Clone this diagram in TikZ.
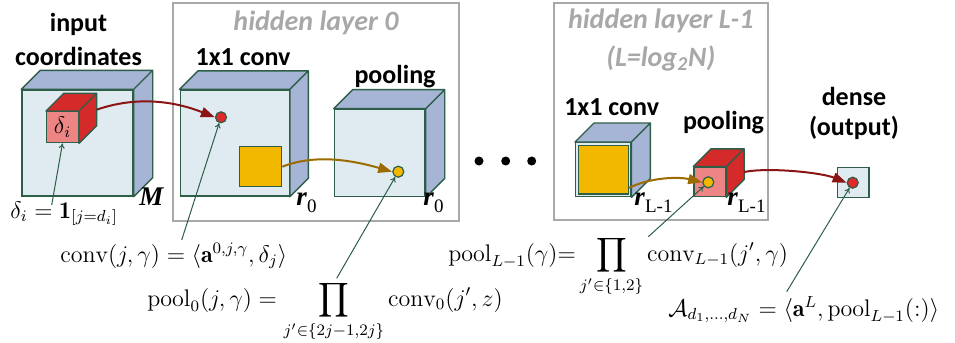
\documentclass[tikz,border=0pt]{standalone}
\usepackage{fontspec}
\setsansfont{Carlito}
\newfontfamily\lblfont{Liberation Serif}
\usepackage{amsmath,bm}
\usetikzlibrary{arrows.meta, positioning, calc}

\definecolor{facefront}{HTML}{DFEBF1}
\definecolor{faceside}{HTML}{A6B4D6}
\definecolor{edgegreen}{HTML}{2D5E48}
\definecolor{redside}{HTML}{D42A2A}
\definecolor{redfront}{HTML}{EE8585}
\definecolor{yellowsq}{HTML}{F2B800}
\definecolor{golden}{HTML}{9C6B00}
\definecolor{darkred}{HTML}{8B1515}
\definecolor{dotred}{HTML}{E02A2A}
\definecolor{boxgray}{HTML}{A8A8A8}

\newcommand{\cubesides}[3]{%
  \filldraw[draw=edgegreen, fill=#3, line width=0.7pt, line join=round]
    (#1.north west) -- ++(#2,-#2) -- ([shift={(#2,-#2)}]#1.north east) -- (#1.north east) -- cycle
    (#1.north east) -- ++(#2,-#2) -- ([shift={(#2,-#2)}]#1.south east) -- (#1.south east) -- cycle;}
\newcommand{\rank}[1]{\textbf{\textit{r}}\raisebox{-3.5pt}{\fontsize{9.5}{10}\selectfont #1}}

\begin{document}
\begin{tikzpicture}[x=0.5pt, y=-0.5pt,
  face/.style={draw=edgegreen, fill=facefront, line width=0.7pt, inner sep=0pt},
  redface/.style={face, fill=redfront},
  fillsq/.style={draw=edgegreen, fill=yellowsq, line width=0.7pt, inner sep=0pt},
  dot/.style={circle, draw=edgegreen, line width=0.6pt, inner sep=0pt, minimum size=5.5pt},
  ellip/.style={circle, fill=black, inner sep=0pt, minimum size=4.5pt},
  note/.style={-{To[length=2.5pt,width=3pt]}, draw=edgegreen, line width=0.5pt},
  flow/.style={-{Triangle[length=7pt,width=5pt]}, line width=1pt},
  layerbox/.style={draw=boxgray, line width=0.9pt},
  head/.style={font=\sffamily\bfseries\fontsize{13}{17}\selectfont, align=center, inner sep=0pt},
  layertitle/.style={font=\sffamily\bfseries\itshape\fontsize{14}{19}\selectfont, text=boxgray,
                     align=center, inner sep=0pt},
  eq/.style={font=\fontsize{12}{14}\selectfont, inner sep=0pt, anchor=base west},
  size/.style={font=\lblfont\fontsize{13.5}{15}\selectfont, inner sep=0pt, anchor=base west},
]
\useasboundingbox (0,0) rectangle (955,343);

\draw[layerbox] (173.3,2.7) rectangle (459,220.7);
\draw[layerbox] (554,2.7) rectangle (768.3,220);

% input coordinates
\node[face, minimum width=55.5pt, minimum height=53pt] (incube) at (77.5,143) {};
\cubesides{incube}{19}{faceside}
\node[redface, minimum width=15.8pt, minimum height=15.5pt] (delta) at (62.5,127.2)
  {\fontsize{12}{14}\selectfont$\delta_i$};
\cubesides{delta}{17.7}{redside}

% hidden layer 0
\node[face, minimum width=54.5pt, minimum height=53pt] (conv0) at (234.7,143) {};
\cubesides{conv0}{18.5}{faceside}
\node[dot, fill=dotred] (dotA) at (221,117.3) {};
\node[fillsq, minimum width=21.2pt, minimum height=20pt] (sqA) at (260.5,166.7) {};

\node[face, minimum width=45.3pt, minimum height=43.7pt] (pool0) at (379.7,153) {};
\cubesides{pool0}{19}{faceside}
\node[dot, fill=yellowsq] (dotB) at (398.3,171.7) {};

% hidden layer L-1
\node[face, minimum width=27.5pt, minimum height=27pt] (convL) at (603.2,169.7) {};
\cubesides{convL}{19}{faceside}
\node[fillsq, minimum width=25pt, minimum height=24.2pt] (sqL) at (603.3,169.9) {};

\node[redface, minimum width=15.8pt, minimum height=14.7pt] (poolL) at (709.8,182) {};
\cubesides{poolL}{17.8}{redside}
\node[dot, fill=yellowsq] (dotC) at (708.3,182.3) {};

% output
\node[face, minimum width=15.6pt, minimum height=15pt] (dense) at (853.3,182.3) {};
\node[dot, fill=dotred] (dotD) at (852.7,182.7) {};

\foreach \i/\x in {1/479,2/505.7,3/531.7}
  \node[ellip] (e\i) at (\x,161) {};

\node[head] (hin) at (78.5,39) {input\\coordinates};
\node[head] (hconv0) at (243,57) {1x1 conv};
\node[head] (hpool0) at (395,76.7) {pooling};
\node[layertitle] (t0) at (316,22.5) {hidden layer 0};
\node[layertitle] (tL) at (660.8,40) {hidden layer L-1\\(L=log\textsubscript{2}N)};
\node[head] (hconvL) at (611.7,107.5) {1x1 conv};
\node[head] (hpoolL) at (723.5,122.5) {pooling};
\node[head, font=\sffamily\bfseries\fontsize{13}{15}\selectfont] (hdense) at (854,113) {dense\\(output)};

\node[size] (labM) at (139,205) {\textbf{\textit{M}}};
\node[size] (labr0a) at (296,205) {\rank{0}};
\node[size] (labr0b) at (423,205) {\rank{0}};
\node[size] (labrLa) at (634,205) {\rank{L-1}};
\node[size] (labrLb) at (727,205) {\rank{L-1}};

\node[eq] (fdelta) at (10,218) {$\delta_i = \mathbf{1}_{[j=d_i]}$};
\node[eq] (fconv) at (60,262) {$\mathrm{conv}(j,\gamma) = \langle \mathbf{a}^{0,j,\gamma}, \delta_j \rangle$};
\node[eq] (fpool0) at (147,306)
  {$\displaystyle \mathrm{pool}_0(j,\gamma) = \prod_{j'\in\{2j-1,2j\}} \mathrm{conv}_0(j',z)$};
\node[eq] (fpoolL) at (448,261)
  {$\displaystyle \mathrm{pool}_{L-1}(\gamma){=}\prod_{j'\in\{1,2\}} \mathrm{conv}_{L-1}(j',\gamma)$};
\node[eq] (fout) at (668,316)
  {$\mathcal{A}_{d_1,\ldots,d_N} = \langle \mathbf{a}^L, \mathrm{pool}_{L-1}(:) \rangle$};

\coordinate (dl) at (51.7,205);
\coordinate (cl) at (181.7,240);
\coordinate (pl) at (336.7,278.3);
\coordinate (ql) at (648.3,236.7);
\coordinate (al) at (786.7,291.7);
\draw[note] (dl) -- (delta.south);
\draw[note] (cl) -- (dotA);
\draw[note] (pl) -- (dotB);
\draw[note] (ql) -- (dotC);
\draw[note] (al) -- (dotD);

\draw[flow, darkred] ([shift={(17.7,-17.5)}]delta.east) .. controls +(40,-14) and +(-40,-16) .. (dotA.west);
\draw[flow, golden] (sqA.east) .. controls +(35,-14) and +(-35,-10) .. (dotB.west);
\draw[flow, golden] ([shift={(0,18)}]sqL.east) .. controls +(20,-10) and +(-25,-6) .. (dotC.west);
\draw[flow, darkred] ([shift={(17.8,-10)}]poolL.east) .. controls +(25,-5) and +(-25,-10) .. (dotD.west);
\end{tikzpicture}
\end{document}
